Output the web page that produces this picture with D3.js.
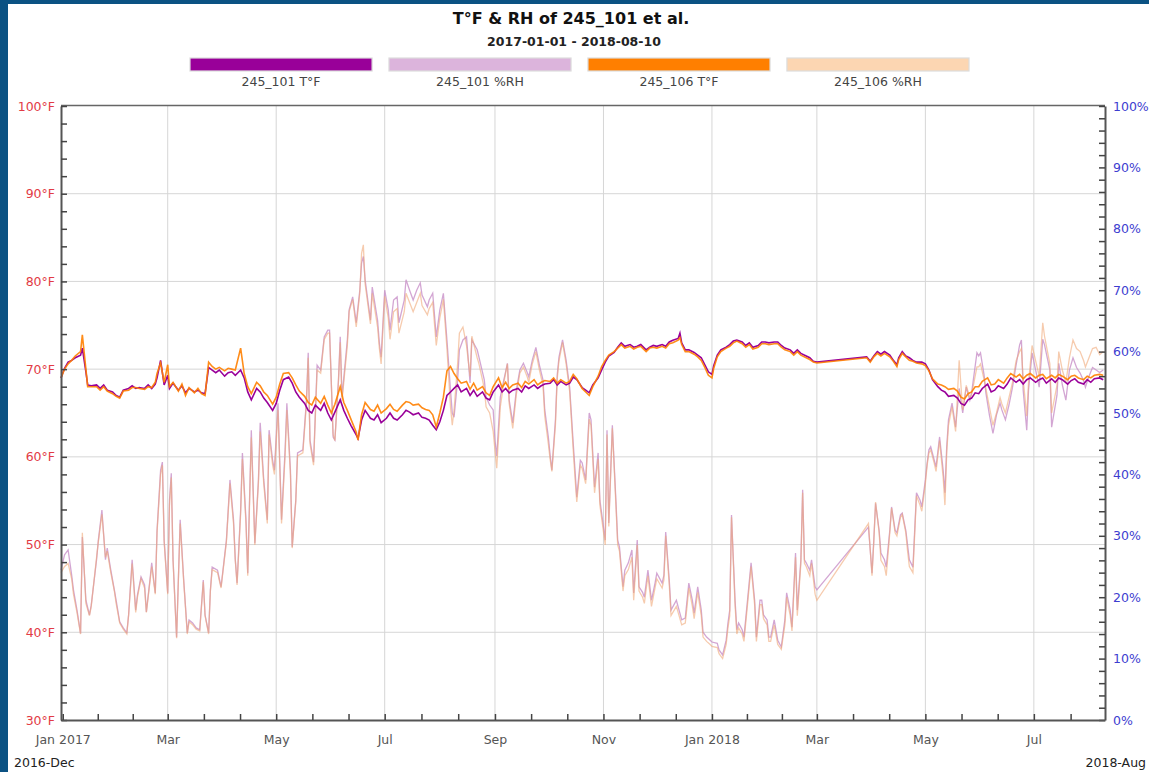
<!DOCTYPE html>
<html><head><meta charset="utf-8">
<script src="https://cdn.jsdelivr.net/npm/d3@7"></script>
<style>
body{margin:0;background:#fff;}
svg{display:block;font-family:"DejaVu Sans",sans-serif;}
</style>
</head><body>
<svg id="chart" width="1149" height="772"></svg>
<script>
// ---------------- DATA ----------------
const chartTitle = "T°F & RH of 245_101 et al.";
const chartSubtitle = "2017-01-01 - 2018-08-10";
const seriesNames = ["245_101 T°F", "245_101 %RH", "245_106 T°F", "245_106 %RH"];
const rangeStartLabel = "2016-Dec";
const rangeEndLabel = "2018-Aug";
const baseDate = "2016-12-31";       // day offsets below are counted from this date
const domainEnd = "2018-08-10";
const tempTicks = [30, 40, 50, 60, 70, 80, 90, 100];
const rhTicks = [0, 10, 20, 30, 40, 50, 60, 70, 80, 90, 100];

// temperature samples (day offsets from baseDate)
const tDays = [0,2,4,6,8,11,12,14,15,17, 20,22,24,26,29,31,33,35,38,40, 42,44,47,49,51,53,54,56,58,60,
 61,63,66,68,70,72,75,77,79,81, 83,85,87,89,92,94,96,98,101,103, 105,107,110,112,114,116,119,121,123,125,
 128,130,132,134,137,139,141,143,146,148, 150,152,154,157,159,161,163,166,167,169, 171,174,176,178,180,183,185,187,189,192,
 194,196,198,201,203,205,207,209,211,213, 215,217,219,221,223,225,228,230,232,234, 237,239,241,243,246,248,250,252,254,257,
 259,261,263,266,268,270,272,275,277,279, 281,284,286,288,290,293,295,297,299,302, 304,306,308,311,313,315,317,320,322,324,
 326,329,331,333,335,338,340,342,344,347, 348,349,351,353,356,358,360,362,364,366, 367,369,371,374,376,378,380,383,385,387,
 389,392,394,396,398,401,403,405,407,410, 412,414,416,419,421,423,425,453,455,457, 459,461,463,466,468,470,471,473,475,477,
 479,481,484,486,488,490,493,495,497,499, 502,504,506,508,510,512,514,516,518,521, 523,525,527,530,532,534,537,539,541,543,
 545,548,550,552,554,557,559,561,563,566, 568,570,572,575,577,579,581,584,586];

const t101 = [69.0,70.1,70.8,71.0,71.3,71.6,72.4,69.7,68.2,68.1, 68.2,67.8,68.2,67.6,67.4,67.0,66.8,67.6,67.8,68.1,
 67.8,67.9,67.8,68.2,67.8,68.3,69.0,71.0,68.2,69.3, 67.8,68.4,67.6,68.1,67.3,67.8,67.4,67.6,67.3,67.2,
 70.2,69.9,69.6,69.9,69.2,69.6,69.7,69.3,69.9,69.0, 67.4,66.5,67.8,67.4,66.7,66.2,65.3,66.1,67.6,68.8,
 69.1,68.4,67.4,66.8,66.1,65.3,65.0,65.9,65.3,66.1, 65.0,64.2,65.1,66.5,65.3,64.4,63.6,62.5,62.1,64.2,
 65.3,64.4,64.2,64.8,63.9,64.4,65.0,64.4,64.2,64.8, 65.3,65.1,64.8,65.0,64.5,64.4,64.2,63.6,63.1,64.0,
 65.3,67.0,67.4,67.8,68.2,67.4,67.8,67.0,67.6,66.9, 67.4,66.7,66.5,67.4,68.2,67.4,67.8,67.3,67.6,67.8,
 67.4,68.1,67.8,68.2,67.8,68.1,68.3,68.4,68.8,68.2, 68.6,68.2,68.4,69.1,68.8,67.9,67.6,67.3,68.2,69.0,
 69.9,70.8,71.5,71.9,72.5,73.0,72.6,72.8,72.5,72.6, 72.8,72.2,72.5,72.7,72.6,72.8,72.6,73.1,73.3,73.5,
 74.1,73.0,72.2,72.2,71.9,71.6,71.3,70.5,69.7,69.4, 70.4,71.6,72.2,72.5,72.8,73.2,73.3,73.1,72.7,73.0,
 72.5,72.7,73.1,73.1,73.0,73.1,73.1,72.7,72.4,72.2, 71.8,72.2,71.8,71.5,71.3,70.9,70.8,71.4,70.9,71.5,
 72.0,71.7,72.0,71.6,71.0,70.5,71.3,72.0,71.5,71.3, 71.0,70.8,70.8,70.6,69.9,68.8,68.0,67.6,67.4,66.9,
 67.0,66.7,66.1,65.9,66.5,66.7,67.3,67.2,67.8,68.3, 67.4,67.6,68.1,67.8,68.3,69.0,68.5,68.8,68.3,68.8,
 69.0,68.5,68.8,69.0,68.4,68.9,68.5,69.0,68.8,68.3, 68.7,68.9,68.5,68.3,68.8,68.5,68.9,69.0,68.8];

const t106 = [69.0,70.0,70.6,71.0,71.5,72.0,73.9,70.0,68.0,68.0, 68.0,67.6,68.0,67.5,67.2,66.9,66.7,67.5,67.6,67.9,
 67.9,67.8,67.7,68.0,67.9,68.5,69.5,70.7,68.5,70.5, 68.0,68.5,67.5,68.3,67.0,67.9,67.3,67.8,67.2,67.0,
 70.8,70.3,70.0,70.2,69.8,70.1,70.0,69.9,72.4,69.5, 68.0,67.2,68.5,68.1,67.4,67.0,66.0,66.8,68.3,69.5,
 69.6,69.0,68.2,67.5,66.9,66.2,65.9,66.8,66.1,66.9, 65.9,65.0,66.0,68.0,66.2,65.3,64.3,62.8,61.9,64.8,
 66.2,65.4,65.2,65.9,65.0,65.5,66.0,65.4,65.2,65.9, 66.3,66.2,65.9,66.0,65.6,65.4,65.3,64.8,63.4,65.0,
 66.8,69.8,70.3,69.5,68.9,68.4,68.6,67.7,68.4,67.6, 68.0,67.3,67.0,68.0,69.0,67.9,68.5,67.8,68.2,68.4,
 67.9,68.6,68.3,68.8,68.2,68.5,68.7,68.6,69.0,68.4, 68.8,68.4,68.6,69.4,68.9,67.8,67.4,67.0,68.0,69.2,
 70.3,71.0,71.6,72.0,72.4,72.8,72.4,72.6,72.3,72.5, 72.6,72.0,72.4,72.5,72.4,72.6,72.4,72.9,73.0,73.3,
 73.6,72.8,72.0,72.0,71.7,71.4,71.0,70.2,69.3,69.0, 70.1,71.4,72.0,72.4,72.6,73.0,73.2,72.9,72.5,72.8,
 72.3,72.5,72.9,72.9,72.8,72.9,72.9,72.5,72.2,72.0, 71.6,72.0,71.6,71.3,71.1,70.8,70.7,71.3,70.8,71.4,
 71.8,71.5,71.8,71.4,70.9,70.3,71.1,71.8,71.4,71.0, 70.9,70.7,70.6,70.4,69.8,68.9,68.3,68.2,68.0,67.7,
 67.8,67.5,66.8,66.6,67.2,67.4,68.0,68.0,68.6,69.0, 68.2,68.3,68.8,68.4,69.0,69.5,69.1,69.4,68.9,69.3,
 69.5,69.0,69.3,69.4,68.9,69.3,69.0,69.4,69.2,68.8, 69.2,69.3,69.0,68.8,69.2,69.0,69.3,69.4,69.3];

// relative humidity samples (day offsets from baseDate)
const rhDays = [0,2,4,6,7,9,11,12,14,16, 17,20,21,23,25,26,28,30,31,33, 35,37,38,40,42,43,45,47,48,50,
 51,53,54,56,57,58,60,61,62,63, 65,67,69,71,72,74,76,78,80,81, 83,84,85,88,90,93,95,97,98,99,
 101,102,104,105,106,107,109,111,112,114, 116,117,119,120,122,124,126,127,129,130, 132,133,136,138,139,140,142,144,146,148,
 150,151,153,154,156,157,158,161,162,164, 166,168,169,170,171,174,175,178,179,180, 182,184,185,187,189,190,193,194,196,198,
 200,202,203,206,207,209,211,213,215,217, 219,220,221,223,224,226,228,230,231,234, 235,238,239,241,243,244,245,247,249,251,
 252,254,256,258,260,262,263,265,267,269, 271,272,274,275,276,278,279,280,282,284, 286,288,289,290,292,293,295,297,298,300,
 302,303,306,307,308,310,312,313,314,316, 317,319,321,322,324,325,327,328,330,332, 334,335,338,339,340,342,343,346,349,351,
 352,353,355,356,358,360,361,363,365,366, 369,370,372,374,375,376,377,379,380,381, 383,384,386,388,390,391,393,394,395,397,
 398,399,401,403,405,407,408,410,411,413, 414,416,417,418,419,421,422,424,425,454, 456,457,458,460,461,463,464,466,467,469,
 470,472,473,475,476,477,479,481,483,484, 486,487,488,489,491,492,494,496,497,498, 499,501,502,503,505,507,509,511,512,515,
 516,517,519,520,522,524,526,528,529,531, 533,535,537,539,540,541,543,544,546,548, 550,552,553,556,557,560,561,563,565,567,
 569,571,573,575,576,578,580,582,584,586];

const rh101 = [24.4,26.9,27.7,23.6,21.2,17.9,14.1,29.8,19.5,17.1, 18.7,26.1,29.3,34.2,26.1,28.0,24.4,21.2,19.5,16.0,
 15.0,14.2,17.1,26.1,17.9,20.4,23.3,22.0,17.6,22.8, 25.6,20.7,30.9,40.7,42.0,29.3,20.7,35.8,40.2,26.1,
 13.5,32.6,22.8,14.2,16.3,15.8,15.0,14.7,22.8,17.1, 14.2,21.2,24.9,24.4,21.7,29.3,39.1,32.6,26.1,22.3,
 34.2,43.5,32.6,23.9,35.8,47.2,28.8,39.1,48.4,39.1, 32.6,47.2,42.3,40.7,51.6,32.6,44.0,51.6,40.7,28.2,
 35.8,43.5,44.0,52.1,59.8,45.6,42.0,57.8,57.0,62.4, 63.5,63.5,46.1,45.6,55.4,62.4,52.6,61.9,66.8,68.9,
 64.7,70.0,74.4,75.5,71.7,65.1,70.5,65.1,61.4,59.1, 70.0,66.8,63.5,68.4,68.9,64.7,68.4,71.7,70.0,68.4,
 70.0,71.2,69.2,67.3,68.4,69.5,62.4,66.8,69.5,61.9, 53.7,50.0,49.3,55.4,60.3,61.9,62.4,54.9,61.9,60.3,
 59.1,55.4,52.6,51.3,50.5,45.6,43.0,52.6,55.4,58.1, 52.1,48.4,53.7,57.0,58.1,56.7,55.9,58.6,60.7,57.8,
 55.4,50.5,46.1,43.2,40.7,48.9,56.2,59.1,61.9,58.6, 54.2,45.1,40.7,36.3,42.3,41.9,39.1,50.0,48.9,37.9,
 43.5,35.8,29.3,47.2,32.1,48.0,35.8,29.3,28.2,21.7, 24.4,25.6,27.7,20.7,29.3,21.7,20.8,20.0,24.4,19.5,
 22.3,23.9,22.3,23.6,30.6,22.8,17.9,19.5,16.3,16.6, 19.5,22.3,19.5,17.4,21.7,17.9,14.3,13.5,13.0,12.7,
 12.5,11.4,10.6,13.0,15.8,17.9,33.4,19.5,14.7,15.8, 14.7,13.5,19.5,25.6,19.5,13.5,19.5,19.5,17.1,16.3,
 13.5,13.5,16.3,13.0,11.9,16.3,20.7,17.9,15.1,27.2, 17.9,26.1,37.5,26.1,25.6,24.4,26.1,21.7,21.2,31.4,
 23.9,29.3,35.3,30.9,27.2,26.1,24.9,30.9,34.7,30.9, 30.5,33.4,33.7,30.9,28.5,26.1,24.9,37.0,35.8,34.7,
 39.1,41.9,44.0,44.5,42.3,41.2,46.1,40.7,37.0,44.5, 48.9,51.6,49.7,47.7,54.0,50.0,54.2,52.1,53.3,59.8,
 59.3,59.8,56.2,53.3,49.7,46.7,49.7,51.6,50.5,48.9, 51.3,54.2,57.8,61.1,61.9,53.7,47.2,53.7,59.8,57.0,
 54.2,62.0,61.1,57.0,47.7,52.9,58.1,54.6,52.1,57.0, 59.0,57.4,56.5,55.2,54.2,56.0,57.4,57.0,56.6,57.0];

const rh106 = [24.0,25.0,25.5,23.0,20.5,17.5,14.0,30.5,19.0,17.0, 18.5,26.5,29.0,33.5,26.5,27.5,24.0,21.0,19.0,15.8,
 14.8,14.0,17.0,25.5,17.5,20.0,23.0,21.5,17.5,22.5, 25.0,20.5,30.5,40.0,41.5,29.0,20.5,35.0,39.5,26.0,
 13.3,32.0,22.5,14.0,16.0,15.5,14.8,14.5,22.5,17.0, 14.0,21.0,24.5,24.0,21.5,29.0,38.5,32.0,26.0,22.0,
 33.5,42.5,32.0,23.5,35.0,46.0,28.5,38.5,47.0,38.5, 32.0,46.5,41.5,40.0,50.5,32.0,43.0,50.5,40.0,28.0,
 35.5,43.0,43.5,51.5,59.0,45.0,41.5,57.0,56.5,62.0, 63.0,63.0,46.5,45.5,55.0,61.5,52.0,61.0,66.5,68.5,
 64.0,69.5,76.0,77.4,71.0,64.5,69.5,64.0,60.5,58.0, 69.0,65.5,62.0,66.5,67.0,63.0,66.5,69.5,68.0,66.5,
 68.0,69.5,67.5,66.0,67.0,68.0,61.0,65.5,68.5,60.5, 51.0,48.0,50.5,58.0,63.0,64.0,61.0,56.0,62.5,59.0,
 58.0,54.0,51.0,50.0,47.0,44.0,41.0,51.0,55.0,58.0, 51.5,47.5,53.0,56.5,57.5,56.0,55.0,58.0,60.0,57.0,
 54.5,49.5,45.0,42.5,40.5,48.0,55.5,58.5,61.5,58.0, 53.5,44.0,39.5,35.5,41.5,41.0,38.5,49.0,48.0,37.0,
 42.5,35.0,28.5,46.5,31.5,47.5,35.0,28.5,27.5,21.0, 23.5,24.5,26.5,19.5,28.5,21.0,20.0,19.0,23.5,18.5,
 21.5,23.0,21.5,22.8,30.0,22.0,17.0,18.5,15.5,15.8, 18.5,21.5,18.5,16.5,20.8,17.0,13.5,12.8,12.3,12.0,
 11.8,10.8,10.0,12.3,15.0,17.0,33.0,18.7,14.0,15.0, 14.0,12.8,18.8,25.0,18.8,12.8,18.8,18.8,16.5,15.5,
 12.8,12.8,15.5,12.3,11.5,15.5,20.0,17.0,14.5,26.5, 17.0,25.5,37.0,25.5,25.0,23.5,25.5,20.5,19.5,32.0,
 23.5,29.0,35.5,30.5,26.0,25.0,23.5,30.5,34.5,30.5, 30.0,33.0,33.5,30.5,27.5,25.0,24.0,36.5,35.0,34.0,
 38.5,41.5,43.5,44.0,41.8,40.5,45.5,39.5,35.0,43.5, 48.0,51.0,49.0,47.0,58.6,50.5,54.5,52.5,53.0,57.5,
 57.5,58.0,55.5,54.0,51.0,48.0,50.0,52.5,51.5,50.0, 52.5,55.0,58.5,60.0,60.5,55.5,49.5,55.0,61.0,58.5,
 56.0,64.7,62.5,58.0,50.0,54.5,60.0,57.0,55.0,59.0, 61.9,60.5,60.0,58.5,57.5,59.0,60.5,60.7,59.5,60.0];

// ---------------- STYLE ----------------
const legendColors = ["#990099", "#dcb4dc", "#ff7f00", "#fcd6b2"];
const lineColors   = ["#990099", "#c890c8", "#ff7f00", "#f0a878"];

// ---------------- CHART ----------------
const svg = d3.select("#chart");
const W = 1149, H = 772;
const m = {left: 61, right: 1105, top: 106, bottom: 720};
const parse = d3.utcParse("%Y-%m-%d");
const base = parse(baseDate);

// frame
svg.append("rect").attr("x", 0).attr("y", 0).attr("width", W).attr("height", 4).attr("fill", "#0b5283");
svg.append("rect").attr("x", 0).attr("y", 0).attr("width", 8).attr("height", H).attr("fill", "#0b5283");

const x = d3.scaleUtc().domain([base, parse(domainEnd)]).range([m.left, m.right]);
const yT = d3.scaleLinear().domain([30, 100]).range([m.bottom, m.top]);
const yR = d3.scaleLinear().domain([0, 100]).range([m.bottom, m.top]);

// x ticks
const majors = d3.utcMonth.every(2).range(parse("2017-01-01"), parse("2018-08-02"));
const minors = [];
majors.forEach((d, i) => {
  const nxt = i < majors.length - 1 ? majors[i + 1] : d3.utcMonth.offset(d, 2);
  const span = nxt - d;
  [1, 2].forEach(k => {
    const t = new Date(+d + span * k / 3);
    if (t <= x.domain()[1]) minors.push(t);
  });
});

// grid
const grid = svg.append("g").attr("stroke", "#d6d6d6").attr("stroke-width", 1);
tempTicks.filter(v => v > 30 && v < 100).forEach(v => {
  grid.append("line").attr("x1", m.left).attr("x2", m.right).attr("y1", yT(v)).attr("y2", yT(v));
});
majors.forEach(d => {
  if (x(d) > m.left + 3) grid.append("line").attr("x1", x(d)).attr("x2", x(d)).attr("y1", m.top).attr("y2", m.bottom);
});

// lines
function pts(days, vals) {
  return days.map((d, i) => ({date: d3.utcDay.offset(base, d), v: vals[i]})).filter(p => p.v != null);
}
const lineT = d3.line().x(p => x(p.date)).y(p => yT(p.v));
const lineR = d3.line().x(p => x(p.date)).y(p => yR(p.v));
const plot = svg.append("g");
plot.append("path").datum(pts(rhDays, rh101)).attr("d", lineR).attr("fill", "none")
  .attr("stroke", lineColors[1]).attr("stroke-width", 1.3).attr("stroke-opacity", 0.8);
plot.append("path").datum(pts(rhDays, rh106)).attr("d", lineR).attr("fill", "none")
  .attr("stroke", lineColors[3]).attr("stroke-width", 1.3).attr("stroke-opacity", 0.6);
plot.append("path").datum(pts(tDays, t101)).attr("d", lineT).attr("fill", "none")
  .attr("stroke", lineColors[0]).attr("stroke-width", 1.6);
plot.append("path").datum(pts(tDays, t106)).attr("d", lineT).attr("fill", "none")
  .attr("stroke", lineColors[2]).attr("stroke-width", 1.6).attr("stroke-opacity", 0.9);

// top border
svg.append("line").attr("x1", m.left).attr("x2", m.right).attr("y1", m.top - 0.5).attr("y2", m.top - 0.5)
  .attr("stroke", "#666").attr("stroke-width", 1.5);

// axes
function styleAxis(g, color) {
  g.select(".domain").attr("stroke", "#555").attr("stroke-width", 2);
  g.selectAll(".tick line").attr("stroke", "#444").attr("stroke-width", 1.5);
  g.selectAll(".tick text").attr("fill", color).attr("font-size", 12.5)
    .attr("font-family", "DejaVu Sans, sans-serif");
}
const axL = d3.axisLeft(yT).tickValues(d3.range(30, 101, 2)).tickSize(-6).tickSizeOuter(0).tickPadding(6)
  .tickFormat(d => tempTicks.includes(d) ? d + "°F" : "");
svg.append("g").attr("transform", `translate(${m.left},0)`).call(axL).call(g => styleAxis(g, "#e23b45"));

const axR = d3.axisRight(yR).tickValues(d3.range(0, 101, 2)).tickSize(-6).tickSizeOuter(0).tickPadding(8)
  .tickFormat(d => rhTicks.includes(d) ? d + "%" : "");
svg.append("g").attr("transform", `translate(${m.right},0)`).call(axR).call(g => styleAxis(g, "#3d3dd0"));

const fmtMonth = d => d.getUTCMonth() === 0 ? d3.utcFormat("%b %Y")(d) : d3.utcFormat("%b")(d);
const allX = majors.concat(minors).sort((a, b) => a - b);
const majorSet = new Set(majors.map(d => +d));
const axB = d3.axisBottom(x).tickValues(allX).tickSize(-6).tickSizeOuter(0).tickPadding(15)
  .tickFormat(d => majorSet.has(+d) ? fmtMonth(d) : "");
svg.append("g").attr("transform", `translate(0,${m.bottom})`).call(axB).call(g => styleAxis(g, "#555"));

// range labels
svg.append("text").attr("x", 14).attr("y", 767).attr("font-size", 12.5).attr("fill", "#222").text(rangeStartLabel);
svg.append("text").attr("x", 1146).attr("y", 767).attr("text-anchor", "end").attr("font-size", 12.5).attr("fill", "#222").text(rangeEndLabel);

// title
svg.append("text").attr("x", 571).attr("y", 24).attr("text-anchor", "middle").attr("font-size", 16)
  .attr("font-weight", "bold").attr("fill", "#111").text(chartTitle);
svg.append("text").attr("x", 574).attr("y", 46).attr("text-anchor", "middle").attr("font-size", 12.5)
  .attr("font-weight", "bold").attr("fill", "#222").text(chartSubtitle);

// legend
const legX = d3.scaleBand().domain(seriesNames).range([190, 969]).paddingInner(0.085);
const leg = svg.append("g");
seriesNames.forEach((n, i) => {
  leg.append("rect").attr("x", legX(n)).attr("y", 58).attr("width", legX.bandwidth()).attr("height", 13)
    .attr("fill", legendColors[i]).attr("stroke", "#dcdcdc").attr("stroke-width", 1.2);
  leg.append("text").attr("x", legX(n) + legX.bandwidth() / 2).attr("y", 86).attr("text-anchor", "middle")
    .attr("font-size", 12.5).attr("fill", "#444").text(n);
});
</script>
</body></html>
